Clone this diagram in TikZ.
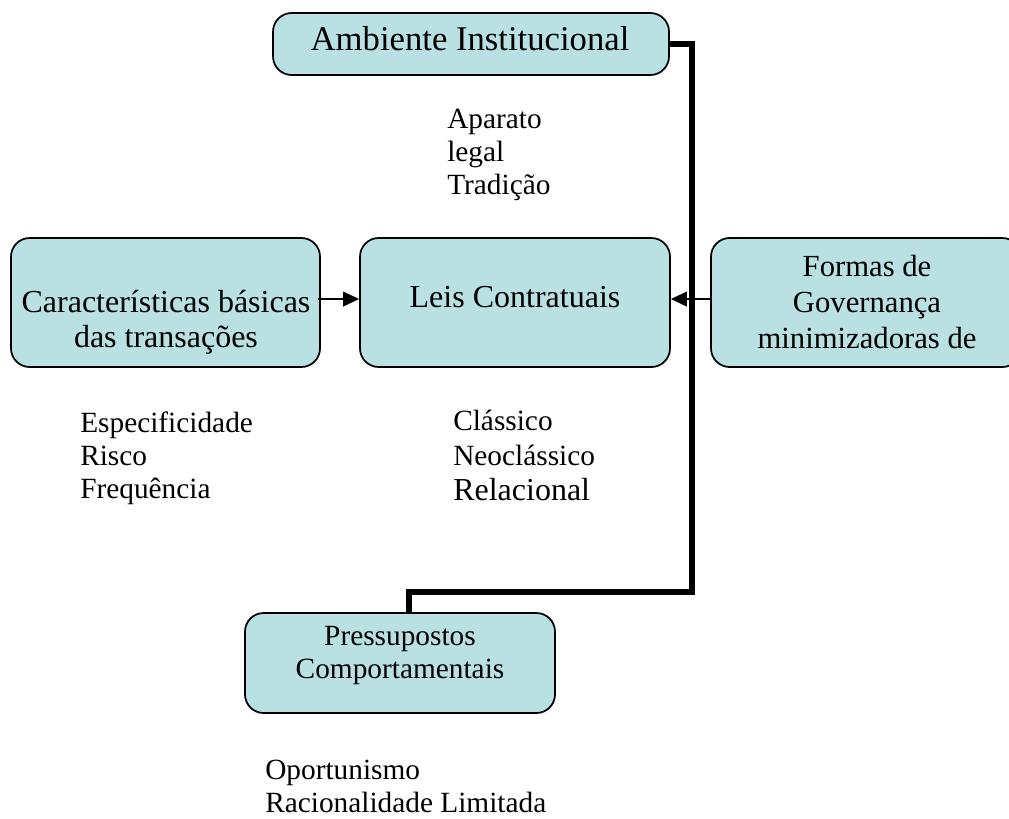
\documentclass[tikz,border=0pt]{standalone}
\usepackage{fontspec}
\setmainfont{Liberation Serif}
\usetikzlibrary{arrows.meta}
\definecolor{boxfill}{RGB}{185,224,227}
\begin{document}
\begin{tikzpicture}[x=0.75pt,y=-0.75pt,
  box/.style={draw=black, line width=1.3pt, fill=boxfill, rounded corners=14pt, inner sep=0pt},
  lbl/.style={inner sep=0pt, align=center, anchor=base},
  lst/.style={inner sep=0pt, align=left, anchor=base west, font=\fontsize{22}{24.75}\selectfont},
  thk/.style={line width=4.5pt},
  arr/.style={line width=1.3pt, -{Triangle[length=12pt,width=11pt]}}]
\useasboundingbox (0,0) rectangle (1009,818);

% boxes
\node[box, minimum width=297pt, minimum height=46.5pt] (amb) at (471,44) {};
\node[box, minimum width=231.75pt, minimum height=96.75pt] (cb) at (165.5,302.5) {};
\node[box, minimum width=232.5pt, minimum height=96.75pt] (leis) at (515,302.5) {};
\node[box, minimum width=232.5pt, minimum height=96.75pt] (formas) at (866,302.5) {};
\node[box, minimum width=232.5pt, minimum height=75pt] (pres) at (400,663) {};

% box texts (base anchor = baseline of the last line)
\node[lbl, font=\fontsize{26}{30}\selectfont] (ambt) at (470,50) {Ambiente Institucional};
\node[lbl, font=\fontsize{24}{26.25}\selectfont] (cbt) at (166,347) {Características básicas\\das transações};
\node[lbl, font=\fontsize{24}{26.25}\selectfont] (leist) at (515,307) {Leis Contratuais};
\node[lbl, font=\fontsize{23}{27}\selectfont] (formast) at (867,348) {Formas de\\Governança\\minimizadoras de};
\node[lbl, font=\fontsize{22}{24.75}\selectfont] (prest) at (400,678) {Pressupostos\\Comportamentais};

% lists
\node[lst] (l1) at (447,194) {Aparato\\legal\\Tradição};
\node[lst] (l2) at (80,498) {Especificidade\\Risco\\Frequência};
\node[lst, font=\fontsize{22}{26.25}\selectfont] (l3) at (453,500) {Clássico\\Neoclássico\\{\fontsize{24}{26.25}\selectfont Relacional}};
\node[lst] (l4) at (265,812) {Oportunismo\\Racionalidade Limitada};

% connectors
\coordinate (jn) at (692,592);
\draw[thk] (amb.east) -| (jn) -| ([xshift=6.75pt]pres.north);
\draw[arr] ([yshift=2.6pt,xshift=-2pt]cb.east) -- ([yshift=2.6pt]leis.west);
\draw[arr] ([yshift=2.6pt]formas.west) -- ([yshift=2.6pt]leis.east);
\end{tikzpicture}
\end{document}
